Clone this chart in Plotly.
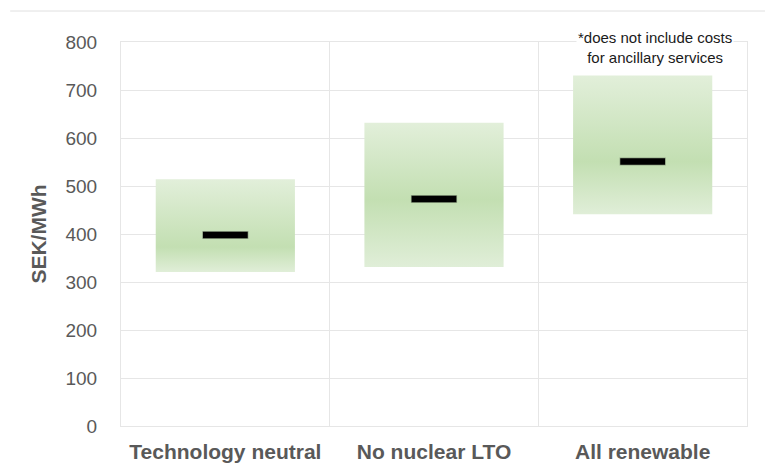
import plotly.graph_objects as go

# Scenario cost ranges (SEK/MWh)
scenarios = ["Technology neutral", "No nuclear LTO", "All renewable"]
range_low = [321, 331, 441]
range_high = [514, 632, 730]
mean_cost = [398, 473, 551]
band_peak = [373, 472, 551]   # where the shaded band is most intense

y_ticks = [0, 100, 200, 300, 400, 500, 600, 700, 800]

TEXT = "#595959"
GRID = "#e6e6e6"
LIGHT = "#e2efda"
DARK = "#c3dfb2"
BOX_W = 0.667
FONT = "Liberation Sans, Arial, Helvetica, sans-serif"

fig = go.Figure()

for i, name in enumerate(scenarios):
    lo, hi, pk = range_low[i], range_high[i], band_peak[i]
    f = (pk - lo) / (hi - lo)
    fig.add_trace(go.Scatter(
        x=[i - BOX_W / 2, i + BOX_W / 2, i + BOX_W / 2, i - BOX_W / 2, i - BOX_W / 2],
        y=[lo, lo, hi, hi, lo],
        mode="lines",
        line=dict(width=0, color=LIGHT),
        fill="toself",
        fillgradient=dict(
            type="vertical",
            start=lo,
            stop=hi,
            colorscale=[[0, "#e0eed8"], [f, DARK], [1, LIGHT]],
        ),
        hoverinfo="skip",
        showlegend=False,
        name=name,
    ))

x_idx = list(range(len(scenarios)))

# mean markers: faint outline underneath a black dash
fig.add_trace(go.Scatter(
    x=x_idx, y=mean_cost, mode="markers",
    marker=dict(symbol="line-ew", size=33, line=dict(width=8, color="rgba(0,0,0,0.25)")),
    hoverinfo="skip", showlegend=False,
))
fig.add_trace(go.Scatter(
    x=x_idx, y=mean_cost, mode="markers",
    marker=dict(symbol="line-ew", size=32, line=dict(width=6.5, color="#000000")),
    showlegend=False, name="Mean",
))

fig.update_layout(
    width=765,
    height=467,
    margin=dict(l=121, r=18, t=42, b=41),
    paper_bgcolor="white",
    plot_bgcolor="white",
    font=dict(family=FONT, color=TEXT),
    xaxis=dict(
        range=[-0.5, len(scenarios) - 0.5],
        tickmode="array",
        tickvals=x_idx,
        ticktext=["<b>%s</b>" % s for s in scenarios],
        tickfont=dict(size=21, color=TEXT, family=FONT),
        showgrid=False,
        zeroline=False,
        showline=True,
        linecolor=GRID,
        linewidth=1,
        mirror=True,
        ticks="",
        ticklabelstandoff=7,
        automargin=False,
        minor=dict(
            tickmode="array",
            tickvals=[k - 0.5 for k in range(len(scenarios) + 1)],
            showgrid=True,
            gridcolor=GRID,
            gridwidth=1,
            ticks="",
        ),
        fixedrange=True,
    ),
    yaxis=dict(
        range=[0, 800],
        tickmode="array",
        tickvals=y_ticks,
        tickfont=dict(size=19, color=TEXT, family=FONT),
        showgrid=True,
        gridcolor=GRID,
        gridwidth=1,
        zeroline=False,
        showline=True,
        linecolor=GRID,
        linewidth=1,
        mirror=True,
        ticks="",
        ticklabelstandoff=19,
        automargin=False,
        title=dict(text="<b>SEK/MWh</b>", font=dict(size=21, color=TEXT, family=FONT), standoff=13),
        fixedrange=True,
    ),
    shapes=[
        dict(type="line", xref="paper", yref="paper",
             x0=-0.177, x1=1.03, y0=1.0807, y1=1.0807,
             line=dict(color="#e0e0e0", width=1)),
    ],
    annotations=[
        dict(
            text="*does not include costs<br>for ancillary services",
            xref="paper", yref="paper",
            x=0.853, y=0.985,
            xanchor="center", yanchor="middle",
            showarrow=False,
            align="center",
            bgcolor="white",
            font=dict(size=15, color="#1a1a1a", family=FONT),
        )
    ],
)

fig.write_html("out.html")
